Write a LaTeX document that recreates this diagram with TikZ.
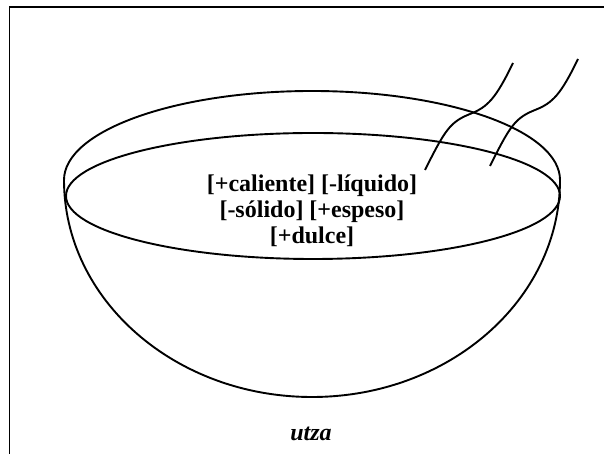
\documentclass[tikz,border=0pt]{standalone}
\usepackage{fontspec}
\setmainfont{Liberation Serif}

\begin{document}
\begin{tikzpicture}[x=1pt,y=1pt,
        trazo/.style={line width=1.9pt},
        rasgo/.style={font=\fontsize{24}{26}\selectfont\bfseries, align=center}]
        \useasboundingbox (0,0) rectangle (604,454);
        % marco
        \draw[line width=1.4pt] (9.5,0) -- (9.5,447) -- (604,447);
        % borde y cuerpo de la taza
        \draw[trazo] (64,274) arc[start angle=180,end angle=0,x radius=248,y radius=89];
        \draw[trazo] (560,274) arc[start angle=0,end angle=-180,x radius=248,y radius=217];
        \draw[trazo] (313,258) ellipse[x radius=247,y radius=63];
        % vapor
        \foreach \dx/\dy in {0/0,65/4}
            \draw[trazo, shift={(\dx,\dy)}] (425,284) .. controls (445,324) and (450,332) .. (470,340)
                .. controls (488,347) and (496,356) .. (513,391);
        \node[rasgo] (rasgos) at (312,243) {[+caliente] [-líquido]\\{}[-sólido] [+espeso]\\{}[+dulce]};
        \node[rasgo, font=\fontsize{24}{26}\selectfont\bfseries\itshape] (utza) at (311,20) {utza};
    \end{tikzpicture}
\end{document}
